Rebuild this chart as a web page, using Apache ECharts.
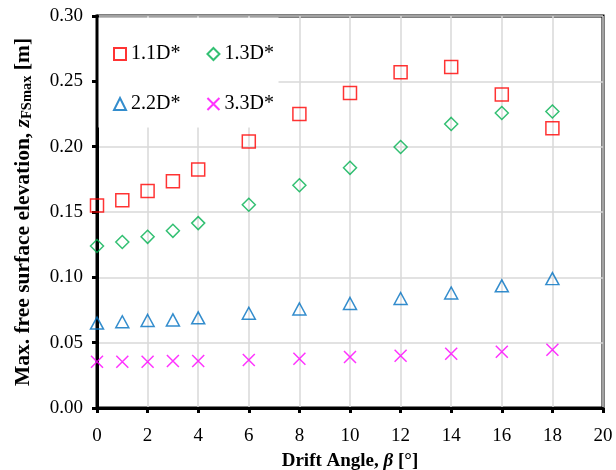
<!DOCTYPE html>
<html>
<head>
<meta charset="utf-8">
<script src="https://cdn.jsdelivr.net/npm/echarts@6/dist/echarts.min.js"></script>
<style>html,body{margin:0;padding:0;background:#fff}#c{width:616px;height:470px}</style>
</head>
<body>
<div id="c"></div>
<script>
var angles = [0, 1, 2, 3, 4, 6, 8, 10, 12, 14, 16, 18];
var d11 = [0.155, 0.159, 0.166, 0.1735, 0.1825, 0.204, 0.225, 0.241, 0.257, 0.261, 0.240, 0.214];
var d13 = [0.124, 0.127, 0.131, 0.1356, 0.1415, 0.1555, 0.1705, 0.1838, 0.1997, 0.2174, 0.2258, 0.2269];
var d22 = [0.065, 0.066, 0.067, 0.0674, 0.069, 0.0725, 0.0758, 0.080, 0.0838, 0.088, 0.0935, 0.099];
var d33 = [0.0354, 0.0354, 0.0354, 0.036, 0.036, 0.0367, 0.0377, 0.039, 0.040, 0.0415, 0.043, 0.0446];
var seriesNames = ['1.1D*', '1.3D*', '2.2D*', '3.3D*'];
var xTicks = {min: 0, max: 20, interval: 2};
var yTicks = {min: 0, max: 0.3, interval: 0.05};

function pairs(ys) { return angles.map(function (a, i) { return [a, ys[i]]; }); }
var FONT = '"Liberation Serif", "Times New Roman", serif';
var chart = echarts.init(document.getElementById('c'));
var hollow = function (c) { return {color: 'rgba(0,0,0,0)', borderColor: c, borderWidth: 1.5}; };
chart.setOption({
  animation: false,
  backgroundColor: '#fff',
  grid: {left: 97, right: 13, top: 16, bottom: 62, outerBoundsMode: 'none', containLabel: false, show: true, borderColor: '#000', borderWidth: 3, backgroundColor: 'transparent'},
  graphic: [{type: 'rect', z: 3, shape: {x: 98.5, y: 17.6, width: 180, height: 110}, style: {fill: '#fff'}}],
  legend: [
    {data: [seriesNames[0], seriesNames[1]], left: 113, top: 44, z: 10, padding: 0, itemWidth: 12, itemHeight: 12, itemGap: 26,
     textStyle: {fontFamily: FONT, fontSize: 20, color: '#000'}},
    {data: [seriesNames[2], seriesNames[3]], left: 113, top: 94, z: 10, padding: 0, itemWidth: 12, itemHeight: 12, itemGap: 26,
     textStyle: {fontFamily: FONT, fontSize: 20, color: '#000'}}
  ],
  xAxis: {
    type: 'value', min: xTicks.min, max: xTicks.max, interval: xTicks.interval,
    axisLine: {lineStyle: {color: '#000', width: 3}},
    axisTick: {show: true, inside: false, length: 5, lineStyle: {color: '#000', width: 3}},
    axisLabel: {fontFamily: FONT, fontSize: 19, color: '#000', margin: 19},
    splitLine: {show: true, lineStyle: {color: '#d9d9d9', width: 1.5}},
    name: '{b|Drift Angle, }{bi|β}{b| [°]}',
    nameLocation: 'middle', nameGap: 44,
    nameTextStyle: {rich: {
      b: {fontFamily: FONT, fontSize: 19, fontWeight: 'bold', color: '#000'},
      bi: {fontFamily: FONT, fontSize: 19, fontWeight: 'bold', fontStyle: 'italic', color: '#000'}
    }}
  },
  yAxis: {
    type: 'value', min: yTicks.min, max: yTicks.max, interval: yTicks.interval,
    axisLine: {lineStyle: {color: '#000', width: 3}},
    axisTick: {show: true, inside: false, length: 5, lineStyle: {color: '#000', width: 3}},
    axisLabel: {fontFamily: FONT, fontSize: 19, color: '#000', margin: 14, formatter: function (v) { return v.toFixed(2); }},
    splitLine: {show: true, lineStyle: {color: '#d9d9d9', width: 1.5}},
    name: '{b|Max. free surface elevation, }{i|z}{s|FSmax}{b| [m]}',
    nameLocation: 'middle', nameRotate: 90, nameGap: 62,
    nameTextStyle: {rich: {
      b: {fontFamily: FONT, fontSize: 21.5, fontWeight: 'bold', color: '#000', lineHeight: 24},
      i: {fontFamily: FONT, fontSize: 21.5, fontWeight: 'bold', fontStyle: 'italic', color: '#000', lineHeight: 24},
      s: {fontFamily: FONT, fontSize: 14.5, fontWeight: 'bold', color: '#000', lineHeight: 24, verticalAlign: 'bottom', padding: [7, 0, 0, 0]}
    }}
  },
  series: [
    {name: seriesNames[0], type: 'scatter', data: pairs(d11), symbol: 'rect', symbolSize: 13, itemStyle: hollow('#FF0000'), z: 5},
    {name: seriesNames[1], type: 'scatter', data: pairs(d13), symbol: 'diamond', symbolSize: [13, 13], itemStyle: hollow('#00B050'), z: 5},
    {name: seriesNames[2], type: 'scatter', data: pairs(d22), symbol: 'triangle', symbolSize: [13, 12], itemStyle: hollow('#0070C0'), z: 5},
    {name: seriesNames[3], type: 'scatter', data: pairs(d33), symbol: 'path://M0,0L10,10M0,10L10,0', symbolSize: 12, itemStyle: hollow('#FF00FF'), z: 5}
  ]
});
</script>
</body>
</html>
